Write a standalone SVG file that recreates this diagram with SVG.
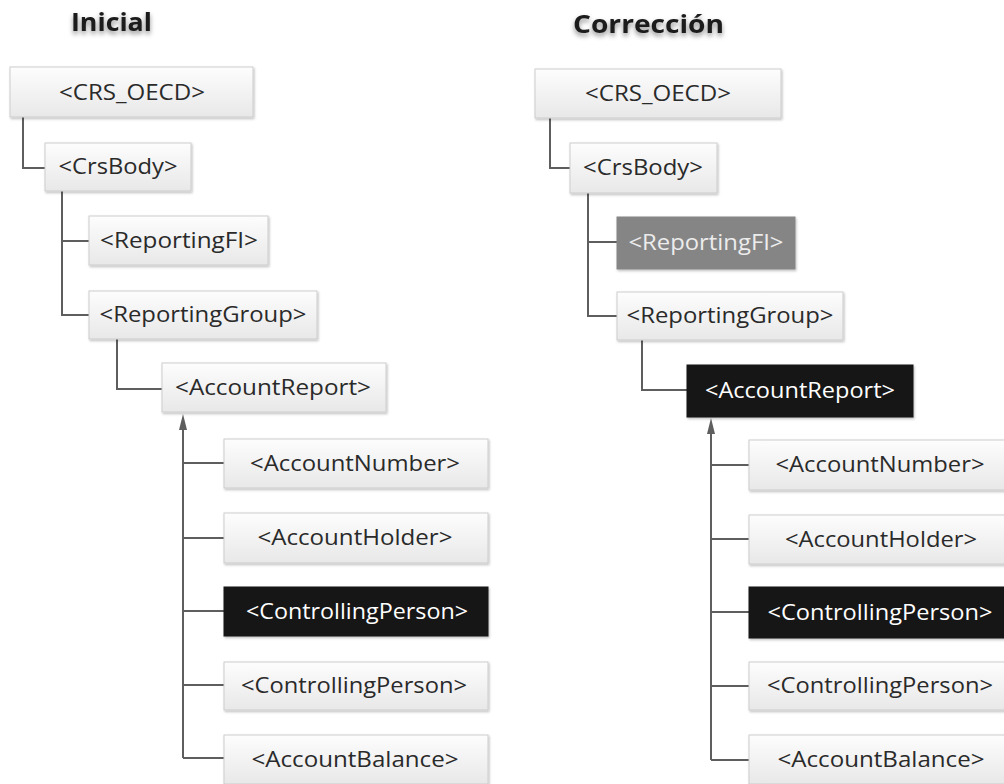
<svg xmlns="http://www.w3.org/2000/svg" width="1004" height="784" viewBox="0 0 1004 784">
<defs>
<linearGradient id="g" x1="0" y1="0" x2="0" y2="1">
<stop offset="0" stop-color="#fdfdfd"/>
<stop offset="1" stop-color="#e8e8e8"/>
</linearGradient>
<filter id="sh" x="-5%" y="-10%" width="115%" height="130%">
<feDropShadow dx="1" dy="1.5" stdDeviation="1" flood-color="#000" flood-opacity="0.25"/>
</filter>
<filter id="ts" x="-20%" y="-50%" width="140%" height="220%">
<feDropShadow dx="0" dy="3" stdDeviation="2.5" flood-color="#000" flood-opacity="0.45"/>
</filter>
<marker id="arr" viewBox="0 0 16 8" refX="0" refY="4" markerWidth="16" markerHeight="8" markerUnits="userSpaceOnUse" orient="auto">
<path d="M0,0 L16,4 L0,8 z" fill="#5e5e5e"/>
</marker>
<style>
.box rect{fill:url(#g);stroke:#cdcdcd;stroke-width:1;filter:url(#sh)}
.box text{font-family:"Open Sans","Liberation Sans",sans-serif;font-size:21px;fill:#2a2a2a;text-anchor:middle}
.dark rect{fill:#141414;stroke:#141414}
.dark text{fill:#fff}
.grey rect{fill:#858585;stroke:#858585}
.grey text{fill:#ececec}
.title{font-family:"Open Sans","Liberation Sans",sans-serif;font-weight:bold;font-size:25px;fill:#1a1a1a;filter:url(#ts)}
.con path{fill:none;stroke:#5e5e5e;stroke-width:2}
</style>
</defs>
<rect width="1004" height="784" fill="#fff"/>
<text class="title" x="71" y="31" textLength="81" lengthAdjust="spacingAndGlyphs">Inicial</text>
<text class="title" x="573" y="33" textLength="151" lengthAdjust="spacingAndGlyphs">Corrección</text>

<g id="connectors" class="con">
<path d="M23 117 V168 H45"/>
<path d="M62 191 V315 H89 M62 241 H89"/>
<path d="M117 339 V389 H162"/>
<path d="M183 758 V430" marker-end="url(#arr)"/>
<path d="M183 463 H224 M183 538 H224 M183 611 H224 M183 685 H224 M183 758 H224"/>
<path d="M550 118 V168 H570"/>
<path d="M588 193 V316 H617 M588 242 H617"/>
<path d="M642 340 V390 H687"/>
<path d="M711 760 V434" marker-end="url(#arr)"/>
<path d="M711 465 H749 M711 539 H749 M711 612 H749 M711 686 H749 M711 760 H749"/>
</g>

<g id="l-crs" class="box"><rect x="10" y="67" width="243" height="50"/><text x="132" y="100" textLength="146" lengthAdjust="spacingAndGlyphs">&lt;CRS_OECD&gt;</text></g>
<g id="l-body" class="box"><rect x="45" y="143" width="146" height="48"/><text x="118" y="174" textLength="119" lengthAdjust="spacingAndGlyphs">&lt;CrsBody&gt;</text></g>
<g id="l-fi" class="box"><rect x="89" y="216" width="179" height="49"/><text x="179" y="248" textLength="158" lengthAdjust="spacingAndGlyphs">&lt;ReportingFI&gt;</text></g>
<g id="l-group" class="box"><rect x="89" y="291" width="228" height="48"/><text x="203" y="322" textLength="207" lengthAdjust="spacingAndGlyphs">&lt;ReportingGroup&gt;</text></g>
<g id="l-report" class="box"><rect x="162" y="363" width="224" height="49"/><text x="273" y="395" textLength="196" lengthAdjust="spacingAndGlyphs">&lt;AccountReport&gt;</text></g>
<g id="l-number" class="box"><rect x="224" y="439" width="264" height="49"/><text x="355" y="471" textLength="210" lengthAdjust="spacingAndGlyphs">&lt;AccountNumber&gt;</text></g>
<g id="l-holder" class="box"><rect x="224" y="513" width="264" height="50"/><text x="355" y="545" textLength="195" lengthAdjust="spacingAndGlyphs">&lt;AccountHolder&gt;</text></g>
<g id="l-cp1" class="box dark"><rect x="224" y="587" width="264" height="49"/><text x="357" y="619" textLength="222" lengthAdjust="spacingAndGlyphs">&lt;ControllingPerson&gt;</text></g>
<g id="l-cp2" class="box"><rect x="224" y="662" width="264" height="48"/><text x="354" y="693" textLength="226" lengthAdjust="spacingAndGlyphs">&lt;ControllingPerson&gt;</text></g>
<g id="l-balance" class="box"><rect x="224" y="735" width="264" height="49"/><text x="355" y="767" textLength="207" lengthAdjust="spacingAndGlyphs">&lt;AccountBalance&gt;</text></g>

<g id="r-crs" class="box"><rect x="535" y="69" width="246" height="49"/><text x="658" y="101" textLength="146" lengthAdjust="spacingAndGlyphs">&lt;CRS_OECD&gt;</text></g>
<g id="r-body" class="box"><rect x="570" y="143" width="147" height="50"/><text x="643" y="175" textLength="120" lengthAdjust="spacingAndGlyphs">&lt;CrsBody&gt;</text></g>
<g id="r-fi" class="box grey"><rect x="617" y="217" width="178" height="52"/><text x="706" y="250" textLength="155" lengthAdjust="spacingAndGlyphs">&lt;ReportingFI&gt;</text></g>
<g id="r-group" class="box"><rect x="617" y="292" width="226" height="48"/><text x="730" y="323" textLength="207" lengthAdjust="spacingAndGlyphs">&lt;ReportingGroup&gt;</text></g>
<g id="r-report" class="box dark"><rect x="687" y="365" width="226" height="52"/><text x="800" y="398" textLength="190" lengthAdjust="spacingAndGlyphs">&lt;AccountReport&gt;</text></g>
<g id="r-number" class="box"><rect x="749" y="440" width="263" height="50"/><text x="880" y="472" textLength="209" lengthAdjust="spacingAndGlyphs">&lt;AccountNumber&gt;</text></g>
<g id="r-holder" class="box"><rect x="749" y="515" width="263" height="49"/><text x="881" y="547" textLength="192" lengthAdjust="spacingAndGlyphs">&lt;AccountHolder&gt;</text></g>
<g id="r-cp1" class="box dark"><rect x="749" y="587" width="263" height="51"/><text x="880" y="620" textLength="225" lengthAdjust="spacingAndGlyphs">&lt;ControllingPerson&gt;</text></g>
<g id="r-cp2" class="box"><rect x="749" y="662" width="263" height="48"/><text x="880" y="693" textLength="226" lengthAdjust="spacingAndGlyphs">&lt;ControllingPerson&gt;</text></g>
<g id="r-balance" class="box"><rect x="749" y="735" width="263" height="49"/><text x="881" y="767" textLength="207" lengthAdjust="spacingAndGlyphs">&lt;AccountBalance&gt;</text></g>
</svg>
